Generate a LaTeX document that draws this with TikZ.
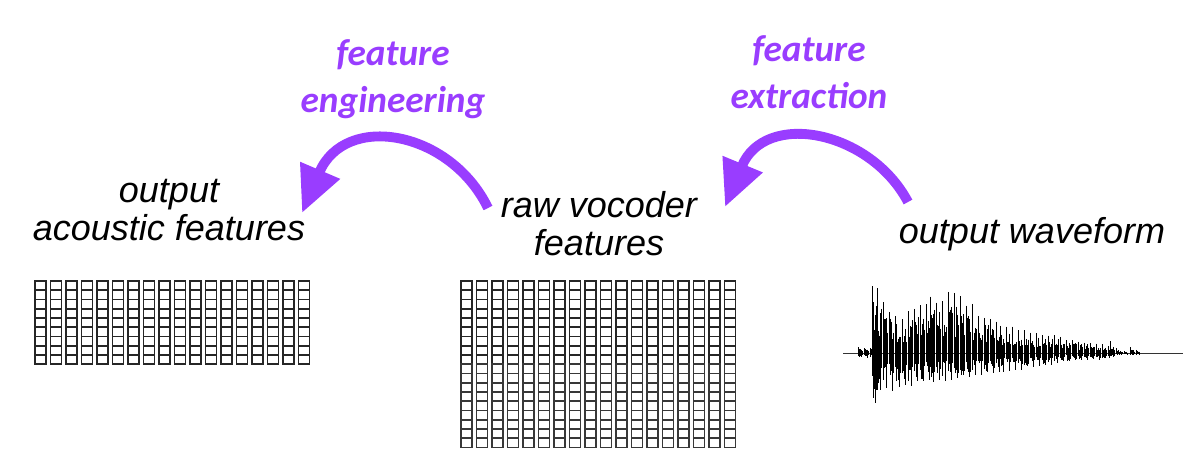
\documentclass[tikz,border=0pt]{standalone}
\usepackage{fontspec}
\setmainfont{Liberation Sans}
\newfontfamily\purplefont{Carlito}
\usetikzlibrary{arrows.meta}
\definecolor{arrowpurple}{RGB}{153,61,255}
\tikzset{
  caption/.style={font=\fontsize{25.6}{27}\selectfont\itshape, align=center, anchor=base, inner sep=0},
  steplabel/.style={font=\purplefont\fontsize{26.5}{33}\selectfont\bfseries\itshape, text=arrowpurple, align=center, anchor=base, inner sep=0},
  bend arrow/.style={arrowpurple, line width=7pt, -{Triangle[length=33pt,width=29pt]}},
  cell/.style={line width=1.1pt, black!85},
  lowcell/.style={line width=1.1pt, black!78},
  wave/.style={line width=0.7pt, black},
}
\begin{document}
\begin{tikzpicture}[x=0.025cm, y=-0.025cm]
\useasboundingbox (0,0) rectangle (1190,448);

% labels
\node[caption] (acoustic) at (169,240) {output\\acoustic features};
\node[caption] (vocoder) at (599,255) {raw vocoder\\features};
\node[caption] (waveform) at (1032,243) {output waveform};
\node[steplabel] (engineering) at (393,112) {feature\\engineering};
\node[steplabel] (extraction) at (809,108) {feature\\extraction};

% curved arrows
\coordinate (engstart) at (488,208);
\coordinate (engend) at (302,213);
\coordinate (extstart) at (908,202);
\coordinate (extend) at (725,207);
\draw[bend arrow] (engstart) .. controls (450,130) and (345,112) .. (engend);
\draw[bend arrow] (extstart) .. controls (870,130) and (765,110) .. (extend);

% acoustic feature frames
\foreach \i in {0,...,17}
  \foreach \j in {0,...,8}
    \draw[cell] ({35+15.5*\i},{281+9.25*\j}) rectangle ++(11,9.25);

% vocoder feature frames
\foreach \i in {0,...,17} {
  \foreach \j in {0,...,8}
    \draw[cell] ({461+15.5*\i},{281+9.25*\j}) rectangle ++(11,9.25);
  \foreach \j in {9,...,17}
    \draw[lowcell] ({461+15.5*\i},{281+9.25*\j}) rectangle ++(11,9.25);
}

% waveform
\pgfmathsetseed{7}
\draw[black!80, line width=0.6pt] (843,353) -- (1183,353);
\foreach \xa/\xb/\ua/\ub/\da/\db in {858/872/6/6/5/5, 872/877/72/66/60/50,
    877/896/66/40/48/38, 896/930/35/55/38/32, 930/960/60/64/32/26,
    960/1000/58/30/28/20, 1000/1060/30/18/20/12, 1060/1110/16/8/10/6,
    1110/1118/14/4/5/3, 1118/1128/3/2/2/2, 1130/1140/6/2/3/2} {
  \pgfmathtruncatemacro\nstep{(\xb-\xa)/1.2}
  \foreach \k in {0,...,\nstep} {
    \pgfmathsetmacro\x{\xa+1.2*\k}
    \pgfmathsetmacro\tpos{\k/max(\nstep,1)}
    \pgfmathsetmacro\upamp{(\ua+(\ub-\ua)*\tpos)*(mod(\k,5)==0 ? 0.8+0.2*rnd : 0.25+0.5*rnd)}
    \pgfmathsetmacro\dnamp{(\da+(\db-\da)*\tpos)*(mod(\k+2,5)==0 ? 0.8+0.2*rnd : 0.25+0.55*rnd)}
    \draw[wave] (\x,353-\upamp) -- (\x,353+\dnamp);
  }
}
\end{tikzpicture}
\end{document}
